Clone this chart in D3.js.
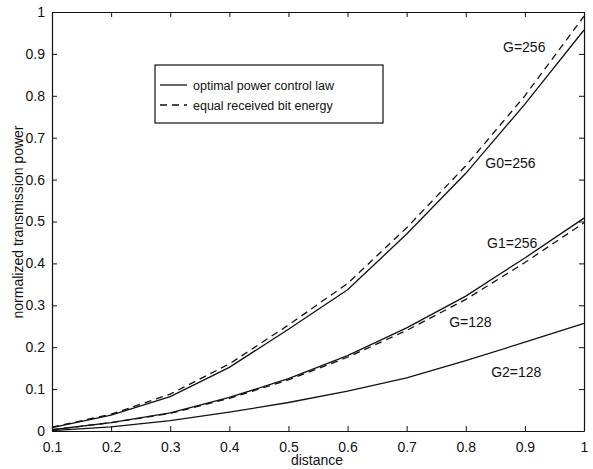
<!DOCTYPE html>
<html>
<head>
<meta charset="utf-8">
<script src="https://cdn.jsdelivr.net/npm/d3@7"></script>
<style>
  body { margin: 0; background: #fff; }
  text { font-family: "Liberation Sans", Arial, sans-serif; fill: #111; }
</style>
</head>
<body>
<svg id="chart"></svg>
<script>
const distance = [0.1, 0.2, 0.3, 0.4, 0.5, 0.6, 0.7, 0.8, 0.9, 1.0];

// solid = optimal power control law, dashed = equal received bit energy
const g0Solid = [0.008, 0.038, 0.082, 0.152, 0.243, 0.337, 0.47, 0.615, 0.78, 0.957];
const g256Dash = [0.009, 0.04, 0.088, 0.16, 0.253, 0.352, 0.485, 0.633, 0.8, 0.99];
const g1Solid = [0.003, 0.02, 0.043, 0.08, 0.125, 0.18, 0.246, 0.322, 0.413, 0.508];
const g128Dash = [0.003, 0.02, 0.042, 0.078, 0.122, 0.176, 0.24, 0.314, 0.402, 0.497];
const g2Solid = [0.001, 0.01, 0.025, 0.045, 0.068, 0.095, 0.127, 0.168, 0.212, 0.257];

const xTicks = [0.1, 0.2, 0.3, 0.4, 0.5, 0.6, 0.7, 0.8, 0.9, 1];
const yTicks = [0, 0.1, 0.2, 0.3, 0.4, 0.5, 0.6, 0.7, 0.8, 0.9, 1];

const curveLabels = [
  { text: 'G=256', x: 0.863, y: 0.905 },
  { text: 'G0=256', x: 0.833, y: 0.627 },
  { text: 'G1=256', x: 0.836, y: 0.437 },
  { text: 'G=128', x: 0.772, y: 0.248 },
  { text: 'G2=128', x: 0.843, y: 0.129 }
];

const width = 593, height = 469;
const margin = { top: 12, right: 9, bottom: 38, left: 52 };
const w = width - margin.left - margin.right;
const h = height - margin.top - margin.bottom;

const svg = d3.select('#chart').attr('width', width).attr('height', height);
const g = svg.append('g').attr('transform', `translate(${margin.left},${margin.top})`);

const x = d3.scaleLinear().domain([0.1, 1]).range([0, w]);
const y = d3.scaleLinear().domain([0, 1]).range([h, 0]);

const fmt = d => (d === 0 ? '0' : d === 1 ? '1' : d3.format('.1f')(d));

// axes with inward ticks on all four sides
g.append('g').attr('transform', `translate(0,${h})`)
  .call(d3.axisBottom(x).tickValues(xTicks).tickFormat(fmt).tickSizeInner(-5).tickSizeOuter(0).tickPadding(11));
g.append('g')
  .call(d3.axisLeft(y).tickValues(yTicks).tickFormat(fmt).tickSizeInner(-5).tickSizeOuter(0).tickPadding(7));
g.append('g')
  .call(d3.axisTop(x).tickValues(xTicks).tickFormat('').tickSizeInner(-5).tickSizeOuter(0));
g.append('g').attr('transform', `translate(${w},0)`)
  .call(d3.axisRight(y).tickValues(yTicks).tickFormat('').tickSizeInner(-5).tickSizeOuter(0));

svg.selectAll('.domain').attr('stroke', '#111').attr('stroke-width', 1.2);
svg.selectAll('.tick line').attr('stroke', '#111');
svg.selectAll('.tick text').style('font-size', '14px').attr('fill', '#111');

const line = d3.line().x((d, i) => x(distance[i])).y(d => y(d));

const series = [
  { values: g0Solid, dash: null },
  { values: g256Dash, dash: '7,5' },
  { values: g1Solid, dash: null },
  { values: g128Dash, dash: '7,5' },
  { values: g2Solid, dash: null }
];

g.selectAll('.curve')
  .data(series)
  .enter()
  .append('path')
  .attr('class', 'curve')
  .attr('d', d => line(d.values))
  .attr('fill', 'none')
  .attr('stroke', '#111')
  .attr('stroke-width', 1.3)
  .attr('stroke-dasharray', d => d.dash);

g.selectAll('.clabel')
  .data(curveLabels)
  .enter()
  .append('text')
  .attr('class', 'clabel')
  .attr('x', d => x(d.x))
  .attr('y', d => y(d.y))
  .style('font-size', '14px')
  .text(d => d.text);

// legend
const legend = g.append('g').attr('transform', `translate(${155 - margin.left},${65 - margin.top})`);
legend.append('rect').attr('width', 228).attr('height', 58)
  .attr('fill', '#fff').attr('stroke', '#111').attr('stroke-width', 1.2);
const legendItems = [
  { text: 'optimal power control law', dash: null },
  { text: 'equal received bit energy', dash: '7,5' }
];
legendItems.forEach((d, i) => {
  const yy = 20 + i * 20;
  legend.append('line').attr('x1', 5).attr('x2', 32).attr('y1', yy).attr('y2', yy)
    .attr('stroke', '#111').attr('stroke-width', 1.3).attr('stroke-dasharray', d.dash);
  legend.append('text').attr('x', 38).attr('y', yy + 4.5).style('font-size', '12.5px').text(d.text);
});

// axis labels
svg.append('text').attr('x', 317).attr('y', 465)
  .attr('text-anchor', 'middle').style('font-size', '14px').text('distance');
svg.append('text')
  .attr('transform', `translate(23,222) rotate(-90)`)
  .attr('text-anchor', 'middle').style('font-size', '14px').text('normalized transmission power');
</script>
</body>
</html>
